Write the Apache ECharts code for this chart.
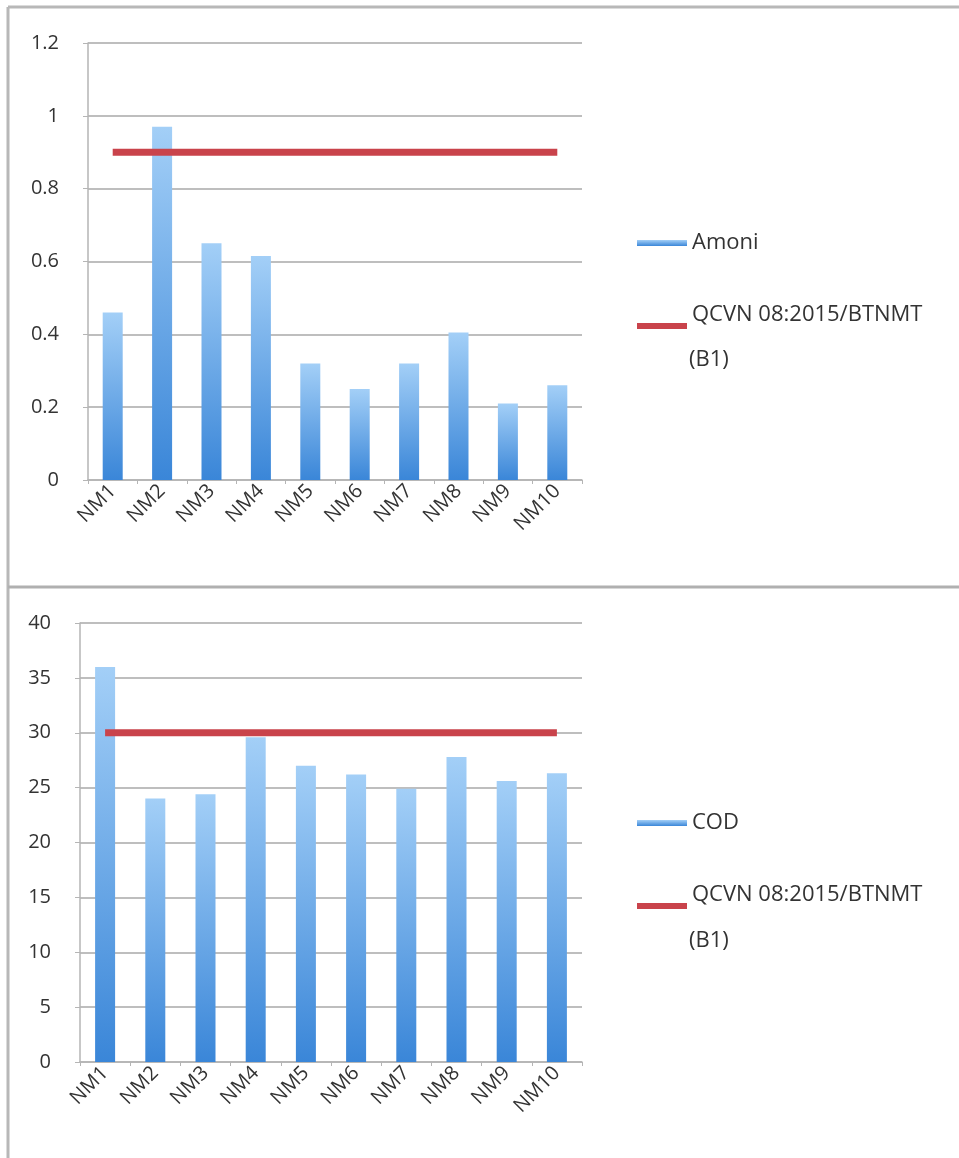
<!DOCTYPE html>
<html>
<head>
<meta charset="utf-8">
<script src="https://cdn.jsdelivr.net/npm/echarts@6/dist/echarts.min.js"></script>
<style>
  html, body { margin: 0; padding: 0; background: #fff; }
  #chart { width: 959px; height: 1158px; }
</style>
</head>
<body>
<div id="chart"></div>
<script>
const stations = ['NM1', 'NM2', 'NM3', 'NM4', 'NM5', 'NM6', 'NM7', 'NM8', 'NM9', 'NM10']
const amoni = [0.46, 0.97, 0.65, 0.615, 0.32, 0.25, 0.32, 0.405, 0.21, 0.26]
const amoniLimit = [0.9, 0.9, 0.9, 0.9, 0.9, 0.9, 0.9, 0.9, 0.9, 0.9]
const cod = [36, 24, 24.4, 29.6, 27, 26.2, 24.9, 27.8, 25.6, 26.3]
const codLimit = [30, 30, 30, 30, 30, 30, 30, 30, 30, 30]
const limitName = 'QCVN 08:2015/BTNMT'

const font = 'Open Sans'
const textColor = '#333'
const red = '#c9434b'

const barColor = new echarts.graphic.LinearGradient(0, 0, 0, 1, [
  { offset: 0, color: '#a3cff7' },
  { offset: 1, color: '#3a86d8' }
])

function xAxis(gridIndex) {
  return {
    type: 'category',
    gridIndex: gridIndex,
    data: stations,
    axisLine: { lineStyle: { color: '#b5b5b5', width: 1.5 } },
    axisTick: { show: true, length: 4, lineStyle: { color: '#b5b5b5' } },
    axisLabel: { rotate: 45, color: textColor, fontFamily: font, fontSize: 20, margin: 8 }
  }
}

function yAxis(gridIndex, max, interval) {
  return {
    type: 'value',
    gridIndex: gridIndex,
    min: 0,
    max: max,
    interval: interval,
    axisLine: { show: true, lineStyle: { color: '#b5b5b5', width: 1.5 } },
    axisTick: { show: true, length: 5, lineStyle: { color: '#b5b5b5' } },
    splitLine: { lineStyle: { color: '#a8a8a8', width: 1.5 } },
    axisLabel: { color: textColor, fontFamily: font, fontSize: 20, margin: 29 }
  }
}

// legend entry; pad lifts the text above the icon
function legend(name, top, pad) {
  return {
    data: [name],
    left: 632,
    top: top,
    icon: 'rect',
    itemWidth: 50,
    itemHeight: 6,
    itemGap: 0,
    formatter: '{t|{name}}',
    textStyle: {
      color: textColor,
      fontFamily: font,
      fontSize: 22,
      rich: { t: { color: textColor, fontFamily: font, fontSize: 22, padding: [0, 0, pad, 0] } }
    }
  }
}

const myChart = echarts.init(document.getElementById('chart'))

const option = {
  backgroundColor: '#fff',
  animation: false,
  grid: [
    { left: 88, top: 43, width: 494, height: 437 },
    { left: 80, top: 623, width: 502, height: 439 }
  ],
  xAxis: [xAxis(0), xAxis(1)],
  yAxis: [yAxis(0, 1.2, 0.2), yAxis(1, 40, 5)],
  legend: [
    legend('Amoni', 227, 0),
    legend(limitName, 299, 22),
    legend('COD', 807, 0),
    legend(limitName, 879, 22)
  ],
  graphic: [
    { type: 'line', shape: { x1: 8, y1: 7, x2: 959, y2: 7 }, style: { stroke: '#b8b8b8', lineWidth: 3 } },
    { type: 'line', shape: { x1: 8, y1: 7, x2: 8, y2: 1158 }, style: { stroke: '#b8b8b8', lineWidth: 3 } },
    { type: 'line', shape: { x1: 8, y1: 587, x2: 959, y2: 587 }, style: { stroke: '#b0b0b0', lineWidth: 3 } },
    { type: 'text', x: 689, y: 360, style: { text: '(B1)', fill: textColor, font: '22px "Open Sans"', verticalAlign: 'middle' } },
    { type: 'text', x: 689, y: 941, style: { text: '(B1)', fill: textColor, font: '22px "Open Sans"', verticalAlign: 'middle' } }
  ],
  series: [
    {
      name: 'Amoni',
      type: 'bar',
      xAxisIndex: 0,
      yAxisIndex: 0,
      barWidth: 20,
      itemStyle: { color: barColor },
      data: amoni
    },
    {
      name: limitName,
      type: 'line',
      xAxisIndex: 0,
      yAxisIndex: 0,
      symbol: 'none',
      lineStyle: { color: red, width: 7 },
      itemStyle: { color: red },
      data: amoniLimit
    },
    {
      name: 'COD',
      type: 'bar',
      xAxisIndex: 1,
      yAxisIndex: 1,
      barWidth: 20,
      itemStyle: { color: barColor },
      data: cod
    },
    {
      name: limitName,
      type: 'line',
      xAxisIndex: 1,
      yAxisIndex: 1,
      symbol: 'none',
      lineStyle: { color: red, width: 7 },
      itemStyle: { color: red },
      data: codLimit
    }
  ]
}

myChart.setOption(option)
</script>
</body>
</html>
